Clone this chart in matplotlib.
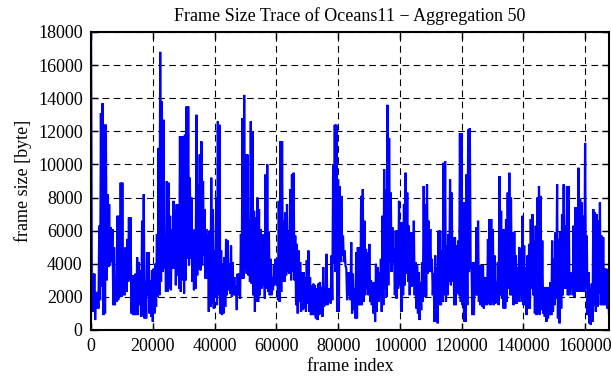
import numpy as np
import matplotlib
matplotlib.use('Agg')
import matplotlib.pyplot as plt

plt.rcParams['font.family'] = 'Liberation Serif'

# upper / lower envelope of the aggregated trace (byte), read left to right
upper = [18000, 3400, 3400, 2300, 2300, 6300, 13100, 13700, 12400, 12400, 8200, 7600, 6200,
         6100, 5000, 3000, 6900, 6900, 8900, 8900, 4600, 5000, 5500, 6800, 6800, 3300, 3300,
         3400, 4400, 4100, 3600, 6600, 8200, 2900, 4700, 4700, 3000, 3600, 3700, 4000, 5800,
         11000, 16800, 13800, 12700, 5500, 9000, 8900, 6900, 6100, 7800, 7300, 7600,
         7600, 11700, 11700, 11700, 11800, 13500, 13500, 9200, 8000, 6000, 6100, 13000, 8800,
         10600, 11400, 9000, 7300, 6100, 5700, 6000, 9200, 7300, 4800, 8000, 12600, 12400, 4800,
         4000, 4400, 5500, 5400, 4000, 5100, 4100, 3200, 2700, 3400, 3400, 5800, 12800, 14200,
         10600, 10600, 6600, 12600, 12000, 7200, 6800, 8000, 7300, 6100, 5800,
         5700, 9400, 10000, 5900, 4300, 3200, 3900, 4300, 4300, 7800, 11400, 11400, 6600, 7100,
         7600, 6000, 8500, 9400, 9500, 5700, 5200, 4800, 4100, 3500, 3500, 3200, 4200, 4800,
         3200, 2700, 2800, 2700, 2500, 2800, 2900, 2600, 3800, 2600, 4600, 2500, 2500, 4500,
         10000, 12400, 12400, 9100, 8700, 8100, 5700, 4800, 3700, 3500,
         3500, 5300, 3400, 2500, 4700, 5000, 5000, 8100, 8500, 6600, 4900, 4700, 5200, 3000,
         2900, 2900, 4000, 3800, 3500, 4300, 6900, 9700, 8500, 13600, 11600, 8300, 6200, 4900,
         6000, 6000, 7800, 6500, 6500, 7600, 9500, 8300, 6300, 5900, 5900, 6600, 4100, 3900,
         3500, 2900, 4100, 8700, 7600, 8800, 6600, 6100, 4300, 3400,
         4500, 3800, 6000, 6000, 4800, 10100, 10200, 5100, 5800, 9100, 8300, 5600, 5600, 5100,
         5400, 11900, 11900, 7700, 7700, 9400, 12100, 12200, 4100, 4100, 4100, 6200, 6600, 3900,
         3900, 3900, 3200, 3200, 5500, 6700, 6700, 6100, 4500, 2900, 4100, 9300, 7200, 6100,
         6100, 6700, 8300, 9500, 8000, 5900, 5900, 4500, 3800, 5000,
         4900, 6900, 5100, 3800, 4500, 5200, 6700, 7000, 5400, 6300, 8000, 8700, 8100, 5400,
         2600, 2600, 2600, 2600, 2900, 5400, 4300, 5900, 8800, 5500, 5900, 7000, 8800, 6300,
         8700, 8700, 3500, 3200, 6300, 7400, 7400, 9800, 7900, 7700, 6900, 11300, 5700, 3500,
         2500, 2800, 7300, 7100, 7000, 6600, 7700, 5700, 5600, 3700, 3700, 3000]

lower = [1100, 1100, 600, 1300, 1300, 1800, 2600, 900, 1000, 3000, 3800, 3900, 4100,
         1500, 1500, 1700, 1800, 2000, 2000, 2100, 2100, 2300, 2900, 3000, 1000, 900, 900,
         900, 900, 1500, 800, 900, 700, 700, 2100, 1000, 800, 500, 1000, 1400, 2000,
         2100, 2900, 3500, 3700, 2300, 2300, 2500, 2400, 3700, 3700, 2700, 3300,
         2500, 2300, 3000, 2200, 3000, 4300, 3900, 4300, 2900, 2400, 2500, 3300, 3700,
         3600, 3900, 4500, 3100, 3100, 1100, 1400, 1600, 1300, 2000, 1500, 2100, 1000, 900,
         1000, 1400, 2100, 2400, 2200, 2000, 2100, 2100, 1200, 2100, 1900, 3100, 3100, 3700,
         3400, 3300, 2900, 2800, 2100, 1100, 1700, 1700, 2100, 2500, 2700,
         1900, 2500, 2300, 2100, 2100, 2400, 2700, 2800, 1800, 1700, 2300, 2900, 2900, 3300,
         3500, 3400, 3000, 3500, 3000, 1500, 1000, 1700, 1100, 1200, 1300, 1100, 1600, 1100,
         900, 900, 900, 700, 600, 900, 1000, 800, 1400, 1500, 1500, 1800, 1600, 1800,
         4000, 3500, 1100, 1100, 4100, 4500, 4100, 3900, 1800, 2100,
         1800, 1000, 1200, 700, 700, 1500, 1500, 1500, 1700, 2100, 2500, 2100, 1700, 1500,
         1000, 500, 1100, 1700, 2100, 1100, 1500, 2500, 2000, 2700, 4100, 3500, 4100, 2100,
         1900, 2500, 2700, 1100, 2100, 2700, 3400, 2900, 2100, 2600, 2700, 2100, 1300, 1000,
         600, 1200, 1700, 2000, 2000, 3400, 3500, 3500, 2100, 500,
         500, 400, 1500, 1500, 1700, 2100, 1700, 2100, 2900, 2700, 2900, 1500, 1500, 2200,
         2100, 1700, 1500, 500, 500, 1500, 3500, 3700, 900, 900, 2100, 2100, 1700, 1500,
         1400, 1300, 1500, 1500, 1600, 1500, 1700, 1500, 1600, 1800, 1500, 2100, 1900, 1300,
         1300, 1700, 2500, 2100, 2100, 1500, 1600, 1600, 1700, 2100,
         1700, 1500, 1500, 900, 1300, 1300, 2500, 2100, 1000, 900, 1000, 900, 1200, 1000,
         800, 500, 700, 900, 900, 1100, 1500, 1900, 700, 400, 1300, 2100, 2500, 2500,
         2100, 2100, 2700, 2100, 2000, 2300, 2300, 2300, 2300, 2300, 2300, 2500, 900, 400,
         300, 500, 1500, 1100, 1400, 2200, 1500, 1500, 1500, 1500, 1300, 1000]

n_frames = 167700

# zig-zag between the envelopes, the way the dense trace looks
size = np.empty(2 * len(upper))
size[0::2] = upper
size[1::2] = lower
frame = np.linspace(0, n_frames, len(size))

fig = plt.figure(figsize=(6.11, 3.8), dpi=100)
ax = fig.add_axes([0.149, 0.1316, 0.8477, 0.7842])
ax.plot(frame, size, color='#0000ff', linewidth=1.6, solid_joinstyle='miter')

ax.set_xlim(0, n_frames)
ax.set_ylim(0, 18000)
ax.set_xticks(np.arange(0, 160001, 20000))
ax.set_yticks(np.arange(0, 18001, 2000))
ax.grid(True, color='black', linestyle=(0, (6, 4)), linewidth=0.8)
ax.tick_params(direction='in', length=5, width=1, top=True, right=True,
               labelsize=13, pad=6)
for s in ax.spines.values():
    s.set_linewidth(1.5)

ax.set_xlabel('frame index', fontsize=13, labelpad=2)
ax.set_ylabel('frame size [byte]', fontsize=13, labelpad=4)
ax.set_title('Frame Size Trace of Oceans11 \u2212 Aggregation 50', fontsize=13, pad=8)

fig.savefig('out.png', dpi=100)
